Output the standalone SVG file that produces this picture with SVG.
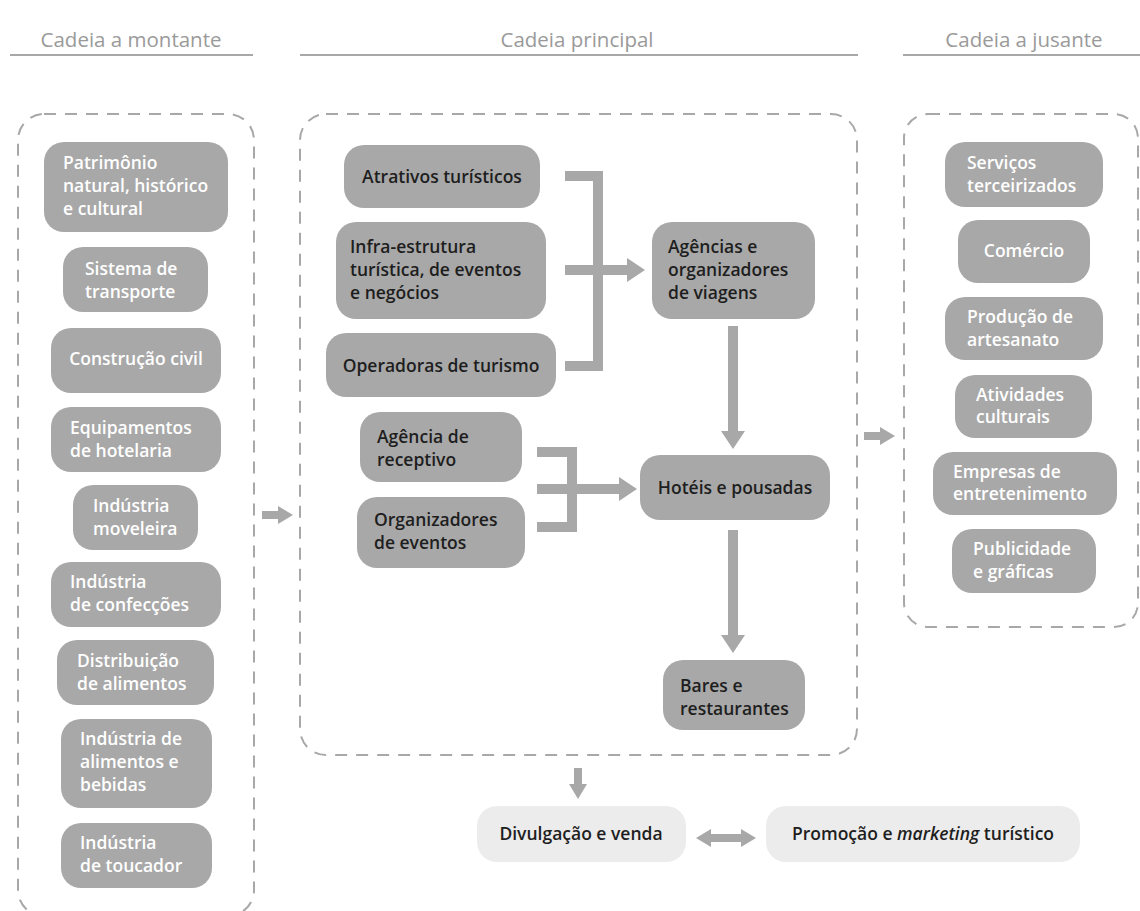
<svg xmlns="http://www.w3.org/2000/svg" width="1140" height="911" viewBox="0 0 1140 911">
<style>
.hdr{font-family:"Open Sans","Liberation Sans",sans-serif;font-size:20.5px;fill:#9a9a9a;text-anchor:middle}
.hline{stroke:#a8a8a8;stroke-width:2}
.cont{fill:none;stroke:#a8a8a8;stroke-width:2;stroke-dasharray:12 9}
.box{fill:#a8a8a8}
.lbox{fill:#ececec}
.w{font-family:"Open Sans","Liberation Sans",sans-serif;font-size:17.5px;font-weight:600;fill:#ffffff}
.k{font-family:"Open Sans","Liberation Sans",sans-serif;font-size:17.5px;font-weight:600;fill:#1e1e1e}
.c{text-anchor:middle}
.conn{fill:none;stroke:#a8a8a8;stroke-width:10}
.connS{fill:none;stroke:#a8a8a8;stroke-width:8}
</style>
<defs>
<marker id="head" markerUnits="userSpaceOnUse" markerWidth="18" markerHeight="24" viewBox="0 0 18 24" refX="1" refY="12" orient="auto">
<path d="M0,0 L18,12 L0,24 Z" fill="#a8a8a8"/>
</marker>
<marker id="headS" markerUnits="userSpaceOnUse" markerWidth="15" markerHeight="18" viewBox="0 0 15 18" refX="1" refY="9" orient="auto-start-reverse">
<path d="M0,0 L15,9 L0,18 Z" fill="#a8a8a8"/>
</marker>
</defs>
<rect width="1140" height="911" fill="#ffffff"/>

<g id="headers">
<text class="hdr" x="131" y="47">Cadeia a montante</text>
<line class="hline" x1="10" y1="55" x2="253" y2="55"/>
<text class="hdr" x="577" y="47">Cadeia principal</text>
<line class="hline" x1="300" y1="55" x2="858" y2="55"/>
<text class="hdr" x="1024" y="47">Cadeia a jusante</text>
<line class="hline" x1="903" y1="55" x2="1140" y2="55"/>
</g>

<g id="containers">
<rect id="c-montante" class="cont" x="18" y="114" width="236" height="802" rx="26"/>
<rect id="c-principal" class="cont" x="300" y="114" width="557" height="641" rx="26"/>
<rect id="c-jusante" class="cont" x="904" y="114" width="234" height="513" rx="24"/>
</g>

<g id="connectors">
<path class="conn" d="M565,176 H598 V366 H565"/>
<path class="conn" d="M565,270 H628" marker-end="url(#head)"/>
<path class="conn" d="M537,452 H572 V527 H537"/>
<path class="conn" d="M537,489 H620" marker-end="url(#head)"/>
<path class="conn" d="M733,326 V432" marker-end="url(#head)"/>
<path class="conn" d="M733,530 V636" marker-end="url(#head)"/>
<path class="connS" d="M262,515 H279" marker-end="url(#headS)"/>
<path class="connS" d="M864,436 H881" marker-end="url(#headS)"/>
<path class="connS" d="M578,768 V785" marker-end="url(#headS)"/>
<path class="connS" d="M710,838 H742" marker-start="url(#headS)" marker-end="url(#headS)"/>
</g>

<g id="patrimonio"><rect class="box" x="44" y="142" width="184" height="90" rx="20"/>
<text class="w" x="63" y="169">Patrimônio</text><text class="w" x="63" y="192">natural, histórico</text><text class="w" x="63" y="215">e cultural</text></g>
<g id="transporte"><rect class="box" x="63" y="247" width="145" height="65" rx="20"/>
<text class="w" x="85" y="275">Sistema de</text><text class="w" x="85" y="298">transporte</text></g>
<g id="construcao"><rect class="box" x="51" y="328" width="170" height="65" rx="20"/>
<text class="w c" x="136" y="365">Construção civil</text></g>
<g id="equipamentos"><rect class="box" x="51" y="407" width="170" height="65" rx="20"/>
<text class="w" x="70" y="434">Equipamentos</text><text class="w" x="70" y="457">de hotelaria</text></g>
<g id="moveleira"><rect class="box" x="73" y="485" width="125" height="65" rx="20"/>
<text class="w" x="93" y="512">Indústria</text><text class="w" x="93" y="535">moveleira</text></g>
<g id="confeccoes"><rect class="box" x="51" y="562" width="170" height="65" rx="20"/>
<text class="w" x="70" y="588">Indústria</text><text class="w" x="70" y="611">de confecções</text></g>
<g id="distribuicao"><rect class="box" x="57" y="640" width="157" height="65" rx="20"/>
<text class="w" x="77" y="667">Distribuição</text><text class="w" x="77" y="690">de alimentos</text></g>
<g id="alimentos"><rect class="box" x="61" y="719" width="151" height="89" rx="20"/>
<text class="w" x="80" y="745">Indústria de</text><text class="w" x="80" y="768">alimentos e</text><text class="w" x="80" y="791">bebidas</text></g>
<g id="toucador"><rect class="box" x="61" y="823" width="151" height="65" rx="20"/>
<text class="w" x="80" y="849">Indústria</text><text class="w" x="80" y="872">de toucador</text></g>

<g id="atrativos"><rect class="box" x="344" y="145" width="196" height="63" rx="20"/>
<text class="k c" x="442" y="183">Atrativos turísticos</text></g>
<g id="infra"><rect class="box" x="336" y="222" width="210" height="97" rx="20"/>
<text class="k" x="350" y="253">Infra-estrutura</text><text class="k" x="350" y="276">turística, de eventos</text><text class="k" x="350" y="299">e negócios</text></g>
<g id="operadoras"><rect class="box" x="326" y="333" width="230" height="64" rx="20"/>
<text class="k c" x="441" y="372">Operadoras de turismo</text></g>
<g id="agencias"><rect class="box" x="652" y="222" width="163" height="97" rx="20"/>
<text class="k" x="668" y="253">Agências e</text><text class="k" x="668" y="276">organizadores</text><text class="k" x="668" y="299">de viagens</text></g>
<g id="receptivo"><rect class="box" x="360" y="412" width="162" height="70" rx="20"/>
<text class="k" x="377" y="443">Agência de</text><text class="k" x="377" y="466">receptivo</text></g>
<g id="org-eventos"><rect class="box" x="357" y="497" width="168" height="71" rx="20"/>
<text class="k" x="374" y="526">Organizadores</text><text class="k" x="374" y="549">de eventos</text></g>
<g id="hoteis"><rect class="box" x="640" y="455" width="190" height="65" rx="20"/>
<text class="k c" x="735" y="494">Hotéis e pousadas</text></g>
<g id="bares"><rect class="box" x="663" y="660" width="142" height="70" rx="20"/>
<text class="k" x="680" y="692">Bares e</text><text class="k" x="680" y="715">restaurantes</text></g>

<g id="servicos"><rect class="box" x="945" y="142" width="158" height="65" rx="20"/>
<text class="w" x="967" y="169">Serviços</text><text class="w" x="967" y="192">terceirizados</text></g>
<g id="comercio"><rect class="box" x="958" y="220" width="132" height="63" rx="20"/>
<text class="w c" x="1024" y="257">Comércio</text></g>
<g id="artesanato"><rect class="box" x="945" y="297" width="158" height="63" rx="20"/>
<text class="w" x="967" y="323">Produção de</text><text class="w" x="967" y="346">artesanato</text></g>
<g id="atividades"><rect class="box" x="955" y="375" width="137" height="63" rx="20"/>
<text class="w" x="976" y="401">Atividades</text><text class="w" x="976" y="423">culturais</text></g>
<g id="entretenimento"><rect class="box" x="933" y="452" width="184" height="63" rx="20"/>
<text class="w" x="953" y="478">Empresas de</text><text class="w" x="953" y="500">entretenimento</text></g>
<g id="publicidade"><rect class="box" x="952" y="529" width="144" height="64" rx="20"/>
<text class="w" x="973" y="555">Publicidade</text><text class="w" x="973" y="578">e gráficas</text></g>

<g id="divulgacao"><rect class="lbox" x="477" y="806" width="209" height="56" rx="20"/>
<text class="k c" x="581" y="840">Divulgação e venda</text></g>
<g id="promocao"><rect class="lbox" x="766" y="806" width="314" height="56" rx="20"/>
<text class="k c" x="923" y="840">Promoção e <tspan font-style="italic">marketing</tspan> turístico</text></g>
</svg>
